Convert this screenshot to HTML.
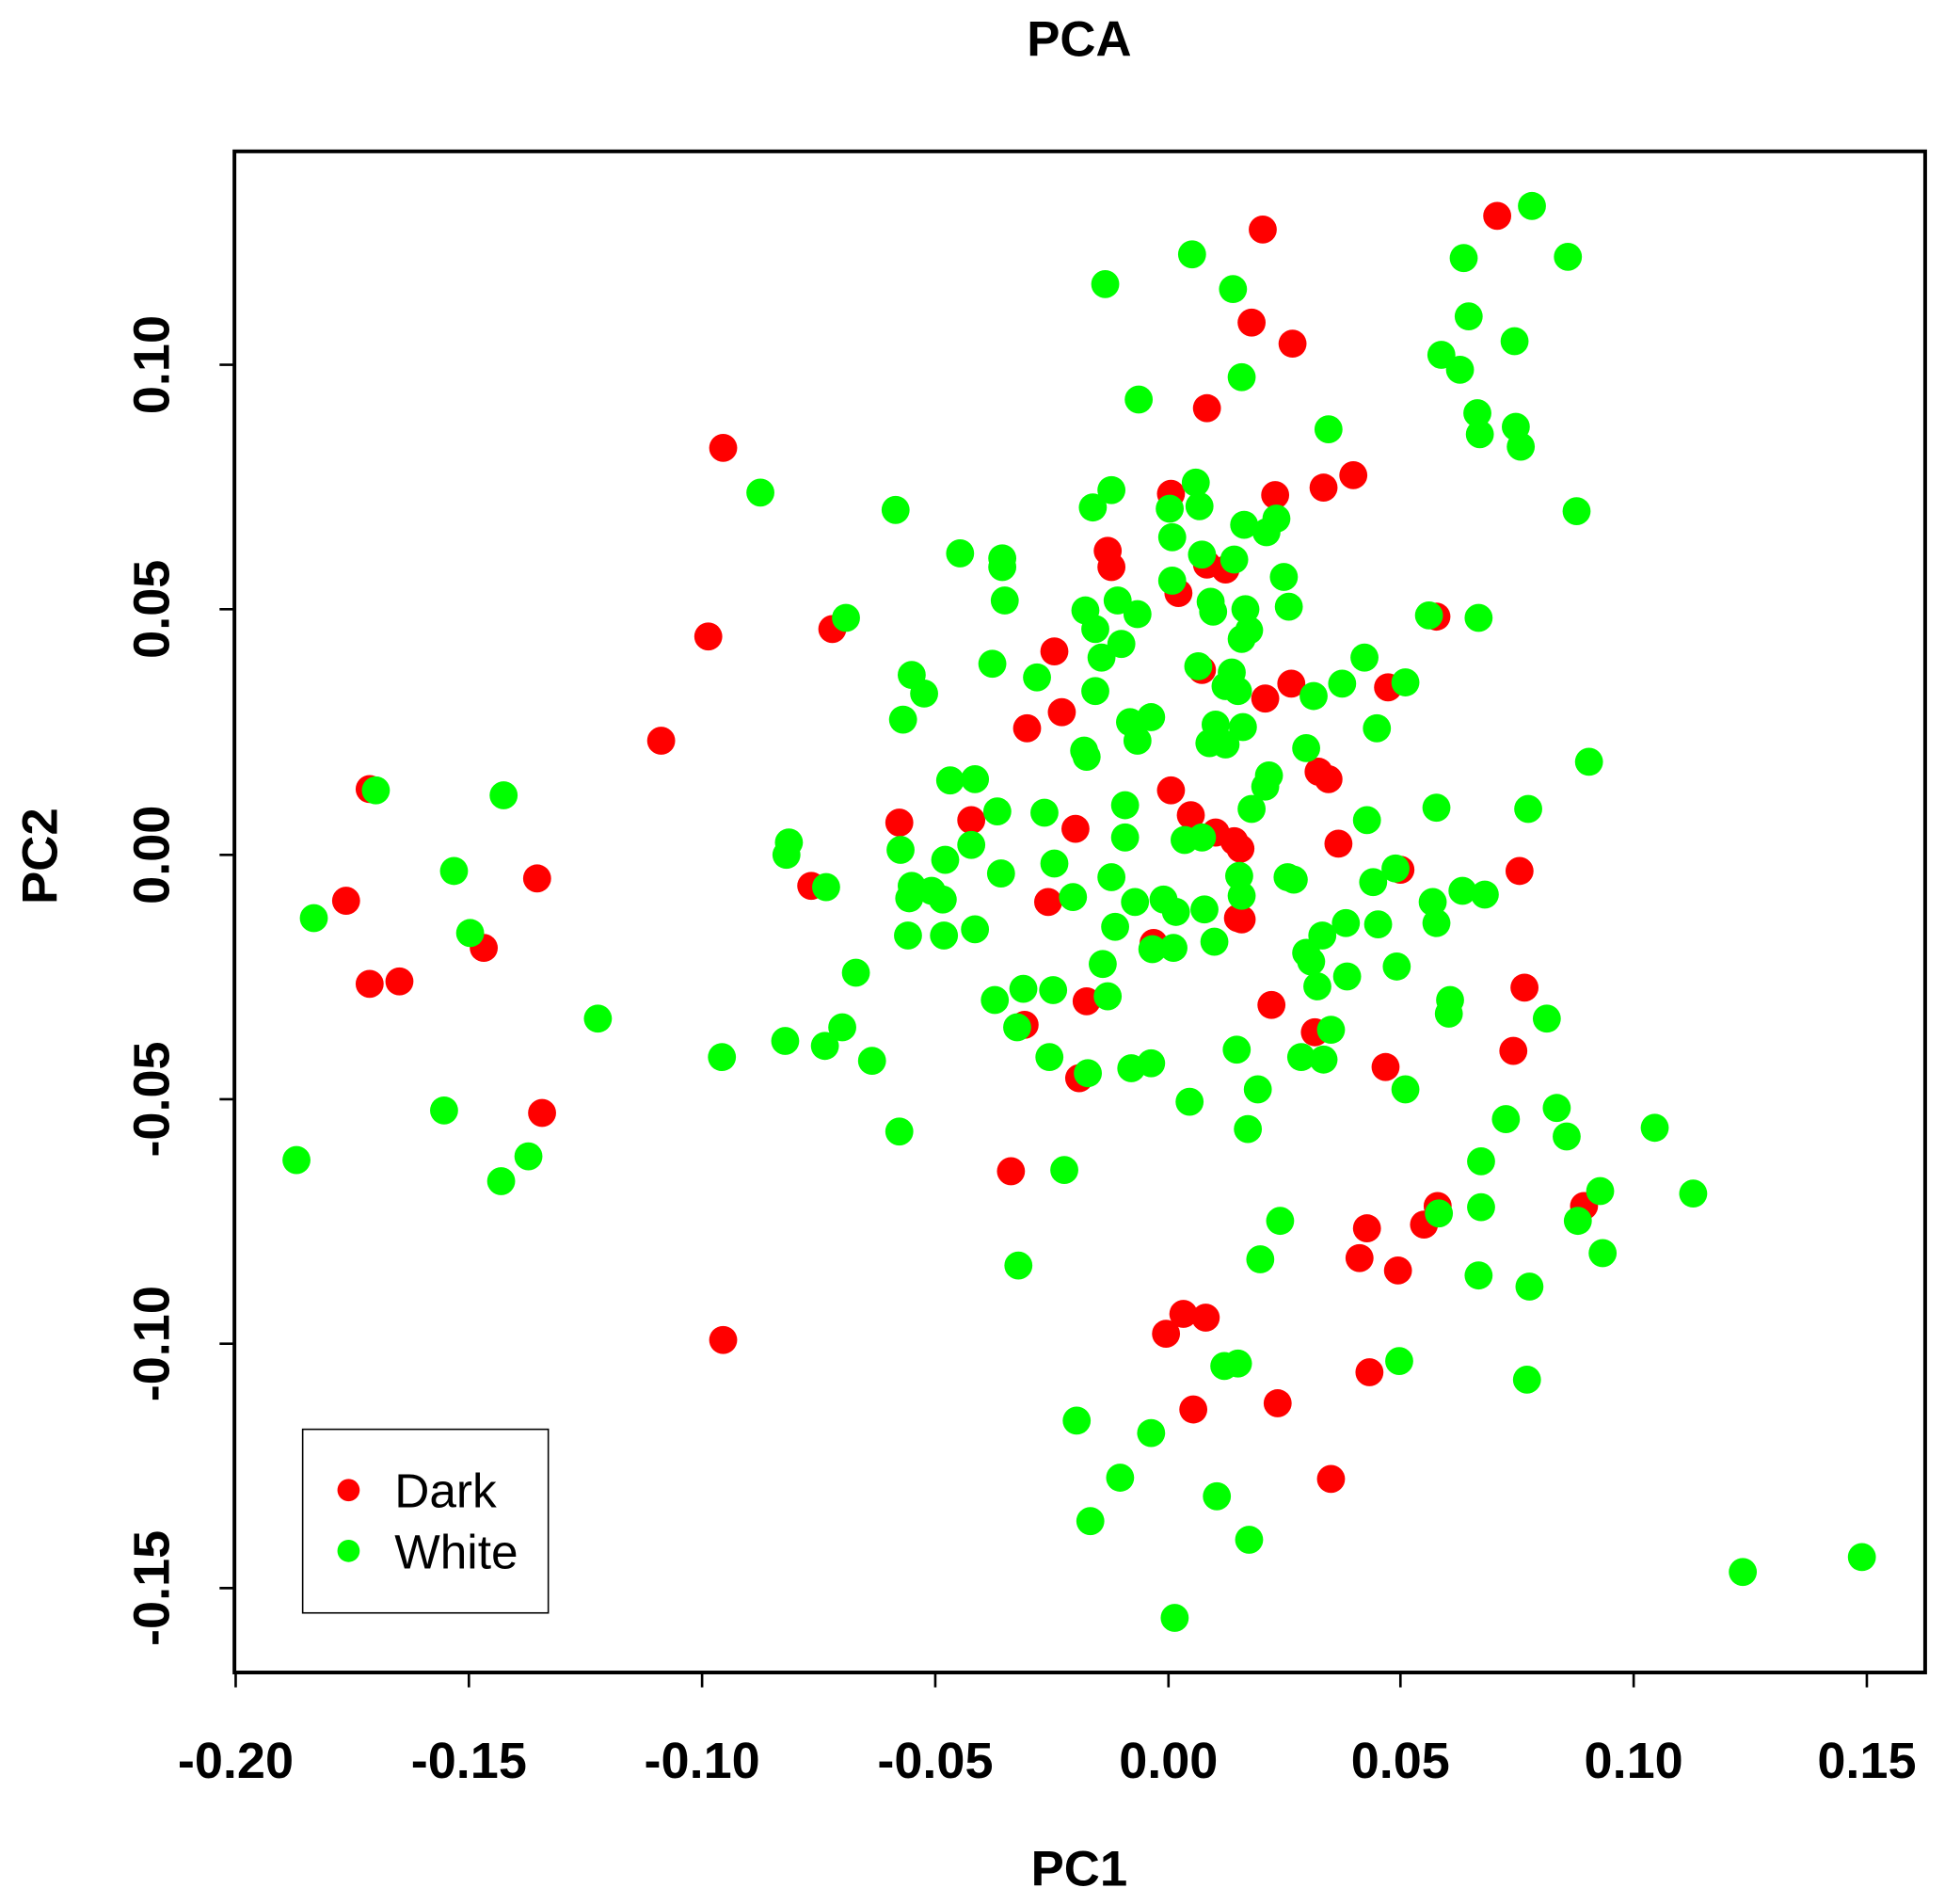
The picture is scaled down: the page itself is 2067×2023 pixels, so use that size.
<!DOCTYPE html>
<html><head><meta charset="utf-8"><style>html,body{margin:0;padding:0;background:#fff}svg{display:block}</style></head>
<body>
<svg width="2067" height="2023" viewBox="0 0 1568 1534.6" preserveAspectRatio="none" xmlns="http://www.w3.org/2000/svg" font-family="Liberation Sans, Arial, sans-serif">
<rect width="1568" height="1535" fill="#fff"/>
<text x="870" y="45" font-size="40" font-weight="bold" text-anchor="middle">PCA</text>
<text x="870" y="1520" font-size="40" font-weight="bold" text-anchor="middle">PC1</text>
<text transform="translate(46,690) rotate(-90)" font-size="40" font-weight="bold" text-anchor="middle">PC2</text>
<g stroke="#000" stroke-width="2">
<line x1="190" y1="1348" x2="190" y2="1360"/><line x1="378" y1="1348" x2="378" y2="1360"/><line x1="566" y1="1348" x2="566" y2="1360"/><line x1="754" y1="1348" x2="754" y2="1360"/><line x1="942" y1="1348" x2="942" y2="1360"/><line x1="1129" y1="1348" x2="1129" y2="1360"/><line x1="1317" y1="1348" x2="1317" y2="1360"/><line x1="1505" y1="1348" x2="1505" y2="1360"/>
<line x1="189" y1="294" x2="177" y2="294"/><line x1="189" y1="491" x2="177" y2="491"/><line x1="189" y1="689" x2="177" y2="689"/><line x1="189" y1="886" x2="177" y2="886"/><line x1="189" y1="1083" x2="177" y2="1083"/><line x1="189" y1="1280" x2="177" y2="1280"/>
</g>
<g font-size="41" font-weight="bold" text-anchor="middle">
<text x="190" y="1433">-0.20</text><text x="378" y="1433">-0.15</text><text x="566" y="1433">-0.10</text><text x="754" y="1433">-0.05</text><text x="942" y="1433">0.00</text><text x="1129" y="1433">0.05</text><text x="1317" y="1433">0.10</text><text x="1505" y="1433">0.15</text>
<text transform="translate(136,294) rotate(-90)">0.10</text><text transform="translate(136,491) rotate(-90)">0.05</text><text transform="translate(136,689) rotate(-90)">0.00</text><text transform="translate(136,886) rotate(-90)">-0.05</text><text transform="translate(136,1083) rotate(-90)">-0.10</text><text transform="translate(136,1280) rotate(-90)">-0.15</text>
</g>
<g fill="#ff0000" id="red"></g>
<g fill="#00ff00" id="green"></g>
<rect x="189" y="122" width="1363" height="1226" fill="none" stroke="#000" stroke-width="3"/>
<rect x="244" y="1152" width="198" height="148" fill="#fff" stroke="#000" stroke-width="1.2"/>
<circle cx="281" cy="1201" r="9" fill="#ff0000"/>
<circle cx="281" cy="1250" r="9" fill="#00ff00"/>
<text x="318" y="1215" font-size="39">Dark</text>
<text x="318" y="1264" font-size="39">White</text>
<script>
var R=[[1018,185],[1207,174],[1009,260],[1042,277],[973,329],[583,361],[1091,383],[1067,393],[1028,399],[944,398],[893,444],[896,457],[973,455],[988,459],[950,478],[1158,497],[571,513],[671,507],[850,525],[969,540],[1041,551],[1020,563],[1119,554],[856,574],[828,587],[533,597],[298,636],[1063,622],[1071,628],[944,637],[725,663],[783,661],[867,668],[960,657],[980,671],[995,678],[1000,684],[1079,680],[433,708],[279,726],[654,714],[1129,701],[1225,702],[845,727],[1001,741],[390,764],[298,793],[322,791],[930,760],[1229,796],[876,807],[1025,810],[826,826],[1060,832],[1220,847],[870,869],[1117,860],[437,897],[815,944],[1159,972],[1148,987],[1277,972],[1102,990],[1096,1014],[1127,1024],[954,1059],[972,1062],[940,1075],[583,1080],[1104,1106],[962,1136],[1030,1131],[1073,1192],[998,740]];
var G=[[1235,166],[961,205],[1180,208],[1264,207],[891,229],[994,233],[1184,255],[1221,275],[1162,286],[1177,298],[1001,304],[918,322],[1191,333],[1193,350],[1071,346],[1222,344],[1226,360],[613,397],[896,395],[964,389],[881,409],[943,410],[967,408],[722,411],[1271,412],[1029,418],[1003,423],[1021,429],[945,433],[774,446],[808,450],[808,457],[969,447],[995,451],[1035,465],[945,468],[810,484],[682,498],[875,492],[901,484],[917,495],[976,485],[978,493],[1004,491],[1039,489],[1152,496],[1192,498],[883,507],[904,519],[1007,508],[1001,515],[888,530],[1100,530],[735,544],[800,535],[836,546],[966,537],[993,542],[988,553],[1133,550],[1082,551],[745,559],[883,557],[998,557],[1059,561],[728,580],[911,582],[928,578],[1110,587],[980,584],[1002,586],[917,597],[975,599],[988,600],[874,605],[876,610],[1053,603],[1281,614],[406,641],[303,637],[766,629],[786,628],[1023,625],[1020,634],[804,654],[842,655],[907,649],[1009,652],[1102,661],[1158,651],[1232,652],[636,679],[634,689],[726,685],[783,681],[907,675],[955,677],[969,675],[366,702],[666,715],[735,714],[762,693],[751,718],[760,725],[733,724],[807,704],[850,696],[865,723],[896,707],[999,706],[1038,707],[1043,709],[1107,711],[1125,700],[1155,727],[1179,718],[1197,721],[253,740],[379,752],[732,754],[761,754],[786,749],[899,747],[915,727],[938,725],[948,735],[971,733],[1001,722],[1066,754],[1085,744],[1111,745],[1158,744],[1053,768],[1057,775],[889,777],[979,759],[929,765],[946,764],[690,784],[802,806],[825,797],[849,798],[893,803],[1062,795],[1086,787],[1126,779],[1169,806],[1168,817],[1247,821],[482,821],[820,828],[679,828],[665,843],[633,839],[1073,830],[582,852],[703,855],[846,852],[877,865],[912,861],[928,857],[997,846],[1049,852],[1067,854],[1133,878],[1014,878],[959,888],[358,895],[1255,893],[1263,916],[1214,902],[1334,909],[725,912],[1006,910],[239,935],[426,932],[404,952],[858,943],[1194,936],[1290,960],[1365,962],[1032,984],[1160,978],[1194,973],[1272,984],[1292,1010],[821,1020],[1016,1015],[1192,1028],[1233,1037],[987,1101],[998,1099],[1128,1097],[1231,1112],[868,1145],[928,1155],[903,1191],[981,1206],[879,1226],[1007,1241],[1405,1267],[1501,1255],[947,1304]];
var ns="http://www.w3.org/2000/svg";
function add(id,a){var g=document.getElementById(id);a.forEach(function(p){var c=document.createElementNS(ns,"circle");c.setAttribute("cx",p[0]);c.setAttribute("cy",p[1]);c.setAttribute("r",11.3);g.appendChild(c);});}
add("red",R);add("green",G);
</script>
</svg>
</body></html>
